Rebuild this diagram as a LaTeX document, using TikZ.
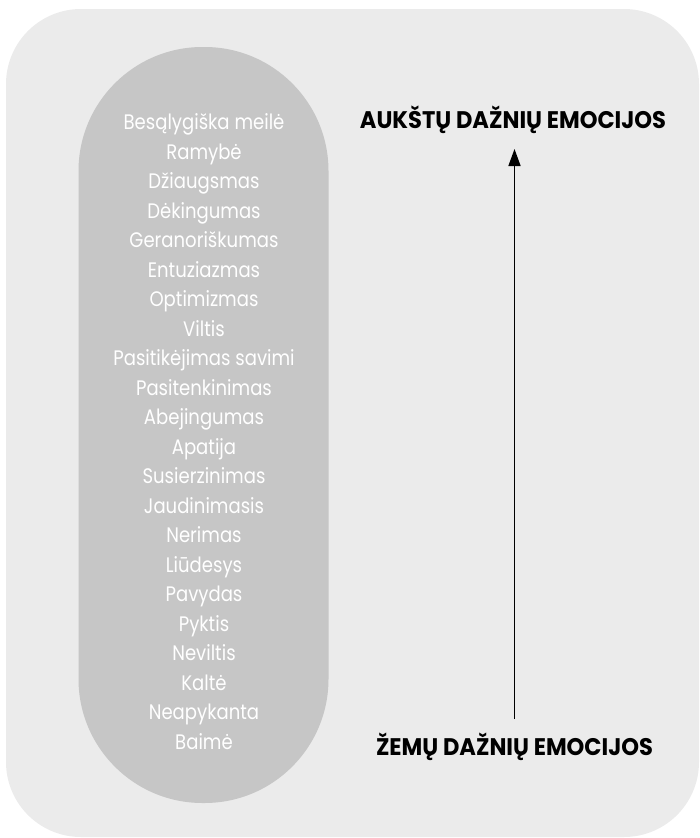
\documentclass[tikz,border=0pt]{standalone}
\usepackage{fontspec}
\setmainfont{Poppins}
\newfontfamily\emofont[FakeStretch=0.86]{Poppins}
\newfontfamily\titlefont[FakeStretch=0.94]{Poppins}
\usepackage{tikz}
\usetikzlibrary{arrows.meta, positioning}

\definecolor{panelgray}{HTML}{EBEBEB}
\definecolor{pillgray}{HTML}{C6C6C6}

\begin{document}
\begin{tikzpicture}[x=1pt, y=-1pt, >={Triangle[length=17pt, width=12pt]},
    panel/.style={fill=panelgray, draw=none, rounded corners=75pt},
    pill/.style ={fill=pillgray, draw=none, rounded corners=124pt},
    emo/.style  ={text=white, font=\emofont\fontsize{21}{23}\selectfont, inner sep=0pt, anchor=base},
    title/.style={text=black, font=\titlefont\fontsize{24}{26}\selectfont\bfseries, inner sep=0pt, anchor=base}
  ]

  \useasboundingbox (0,0) rectangle (699,838);

  % Background
  \fill[panel] (6,9) rectangle (699,837);
  \fill[pill] (78.5,47) rectangle (328.5,803);

  % Emotions, high to low
  \foreach \t [count=\i] in {Besąlygiška meilė, Ramybė, Džiaugsmas, Dėkingumas,
      Geranoriškumas, Entuziazmas, Optimizmas, Viltis, Pasitikėjimas savimi,
      Pasitenkinimas, Abejingumas, Apatija, Susierzinimas, Jaudinimasis,
      Nerimas, Liūdesys, Pavydas, Pyktis, Neviltis, Kaltė, Neapykanta, Baimė}
    \node[emo] (emo\i) at (204, {129.5+(\i-1)*29.5}) {\t};

  % Titles
  \node[title] (high) at (513, 128) {AUKŠTŲ DAŽNIŲ EMOCIJOS};
  \node[title] (low)  at (514.5, 755) {ŽEMŲ DAŽNIŲ EMOCIJOS};

  % Arrow from low to high
  \coordinate (top) at (514.5, 149);
  \coordinate (bot) at (514.5, 719);
  \draw[->, line width=1.5pt] (bot) -- (top);
\end{tikzpicture}
\end{document}
